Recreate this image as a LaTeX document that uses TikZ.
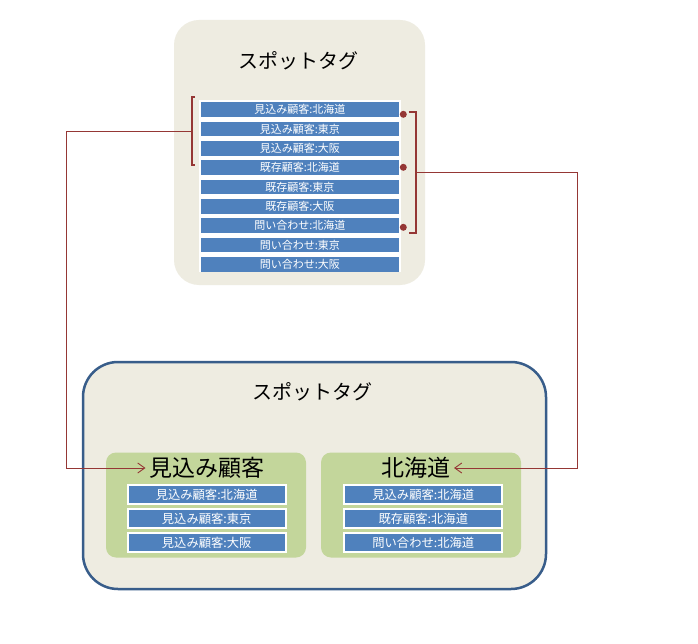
\documentclass[tikz,border=0pt]{standalone}
\usepackage{fontspec}
\setmainfont{Noto Sans CJK JP}
\usetikzlibrary{arrows.meta,calc}
\definecolor{beige}{HTML}{EEECE1}
\definecolor{rowblue}{HTML}{4F81BD}
\definecolor{grn}{HTML}{C3D69B}
\definecolor{bordblue}{HTML}{385D8A}
\definecolor{dred}{HTML}{953735}
\begin{document}
\begin{tikzpicture}[x=1pt,y=-1pt,
  panel/.style={fill=beige, rounded corners=25pt, inner sep=0pt},
  rowt/.style={fill=rowblue, text=white, minimum width=198pt, minimum height=14.5pt, inner sep=0pt, font=\fontsize{11}{11}\selectfont},
  rowb/.style={fill=rowblue, draw=white, line width=2pt, text=white, minimum width=158pt, minimum height=19pt, inner sep=0pt, font=\fontsize{12.3}{12.5}\selectfont},
  grp/.style={fill=grn, rounded corners=10pt, minimum width=200pt, minimum height=105pt, inner sep=0pt},
  ttl/.style={font=\fontsize{20}{24}\selectfont, text=black},
  gttl/.style={font=\fontsize{23}{26}\selectfont, text=black, inner sep=3.5pt},
  brk/.style={draw=dred, line width=1.8pt},
  conn/.style={draw=dred, line width=0.9pt},
  dot/.style={circle, fill=dred, minimum size=7pt, inner sep=0pt},
  tip/.style={-{Straight Barb[length=7pt,width=10pt]}}
]
\useasboundingbox (0,0) rectangle (698,644);
\fill[white] (0,0) rectangle (698,644);

% top panel
\node[panel, minimum width=251pt, minimum height=265pt] (top) at (299.5,152.5) {};
\node[ttl] (ttop) at (298,61) {スポットタグ};
\node[fill=white, minimum width=202pt, minimum height=172pt, inner sep=0pt] (list) at (300,186) {};
\foreach \t [count=\i] in {見込み顧客:北海道,見込み顧客:東京,見込み顧客:大阪,既存顧客:北海道,既存顧客:東京,既存顧客:大阪,問い合わせ:北海道,問い合わせ:東京,問い合わせ:大阪}
  \node[rowt] (r\i) at (299.8,{109.7+19.33*(\i-1)}) {\t};

% brackets and dots
\draw[brk] (195,96.7) -- (191.7,96.7) -- (191.7,165) -- (195,165);
\draw[brk] (408.5,112.3) -- (415.7,112.3) -- (415.7,232.7) -- (408.5,232.7);
\node[dot] (d1) at (403.3,114.3) {};
\node[dot] (d2) at (403.3,167.3) {};
\node[dot] (d3) at (403.3,227.3) {};

% bottom panel
\node[fill=beige, draw=bordblue, line width=2.5pt, rounded corners=35pt, minimum width=463pt, minimum height=227pt, inner sep=0pt] (bot) at (314.5,475.5) {};
\node[ttl] (tbot) at (312,391.5) {スポットタグ};
\node[grp] (gL) at (206,505) {};
\node[grp] (gR) at (421,505) {};
\node[gttl] (tL) at (206.7,468) {見込み顧客};
\node[gttl] (tR) at (415.8,468) {北海道};
\foreach \t [count=\i] in {見込み顧客:北海道,見込み顧客:東京,見込み顧客:大阪}
  \node[rowb] (a\i) at (206.7,{494.5+24*(\i-1)}) {\t};
\foreach \t [count=\i] in {見込み顧客:北海道,既存顧客:北海道,問い合わせ:北海道}
  \node[rowb] (b\i) at (423.3,{494.5+24*(\i-1)}) {\t};

% connectors
\coordinate (lbm) at (191.7,131.7);
\coordinate (lx) at (66,300);
\coordinate (rbm) at (415.7,172.3);
\coordinate (rx) at (577.7,300);
\draw[conn,tip] (lbm) -- (lbm -| lx) |- (tL.west);
\draw[conn,tip] (rbm) -- (rbm -| rx) |- (tR.east);
\end{tikzpicture}
\end{document}
